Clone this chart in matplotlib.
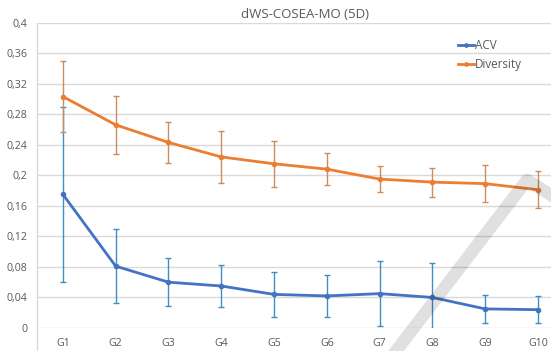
import numpy as np
import matplotlib.pyplot as plt
from matplotlib.lines import Line2D

groups = ['G1', 'G2', 'G3', 'G4', 'G5', 'G6', 'G7', 'G8', 'G9', 'G10']
acv = [0.175, 0.081, 0.060, 0.055, 0.044, 0.042, 0.045, 0.040, 0.025, 0.024]
acv_err = [0.115, 0.048, 0.031, 0.028, 0.029, 0.028, 0.043, 0.045, 0.018, 0.018]
diversity = [0.303, 0.266, 0.243, 0.224, 0.215, 0.208, 0.195, 0.191, 0.189, 0.181]
diversity_err = [0.047, 0.038, 0.027, 0.034, 0.030, 0.021, 0.017, 0.019, 0.024, 0.024]
yticks = [0, 0.04, 0.08, 0.12, 0.16, 0.2, 0.24, 0.28, 0.32, 0.36, 0.4]
ytick_labels = ['0', '0,04', '0,08', '0,12', '0,16', '0,2', '0,24', '0,28', '0,32', '0,36', '0,4']

plt.rcParams['font.family'] = ['Open Sans', 'DejaVu Sans']
text_color = '#595959'
grid_color = '#d9d9d9'

W, H = 551, 351
fig = plt.figure(figsize=(W / 100, H / 100), dpi=100)
ax = fig.add_axes([37 / W, (H - 328) / H, 1 - 37 / W, (328 - 22.5) / H])

x = np.arange(len(groups))
ax.errorbar(x, acv, yerr=acv_err, fmt='none', ecolor='#3f8fc4', elinewidth=1,
            capsize=2, capthick=1, zorder=3)
ax.plot(x, acv, color='#4472c4', lw=2, marker='o', ms=3, label='ACV', zorder=4)
ax.errorbar(x, diversity, yerr=diversity_err, fmt='none', ecolor='#c98d5e', elinewidth=1,
            capsize=2, capthick=1, zorder=5)
ax.plot(x, diversity, color='#ed7d31', lw=2, marker='o', ms=3, label='Diversity', zorder=6)

ax.set_xlim(-0.49, (W - 63) / 52.78)
ax.set_ylim(0, 0.4)
ax.set_yticks(yticks)
ax.set_yticklabels(ytick_labels)
ax.set_xticks(x)
ax.set_xticklabels(groups)
ax.tick_params(axis='both', length=0, labelsize=7.7, colors=text_color)
ax.tick_params(axis='y', pad=7)
ax.tick_params(axis='x', pad=7)
ax.grid(axis='y', color=grid_color, lw=1)
ax.set_axisbelow(True)
for s in ax.spines.values():
    s.set_visible(False)

# left axis line running down past the category labels
fig.add_artist(Line2D([37 / W, 37 / W], [0, (H - 22.5) / H], color=grid_color, lw=1))

fig.text(305 / W, (H - 15) / H, 'dWS-COSEA-MO (5D)', ha='center', va='center',
         fontsize=9.5, color=text_color)

leg = ax.legend(loc='upper left', bbox_to_anchor=(452 / W, (H - 33) / H),
                bbox_transform=fig.transFigure, frameon=False, fontsize=8.4,
                handlelength=1.4, handletextpad=0.1, labelspacing=0.5, borderpad=0,
                markerscale=0.8)
for t in leg.get_texts():
    t.set_color(text_color)

# grey diagonal swoosh on top of the picture
fig.add_artist(Line2D([396 / W, 527 / W, 551 / W],
                      [0, (H - 180) / H, (H - 195) / H],
                      color='black', alpha=0.12, lw=9, solid_joinstyle='round',
                      zorder=10))

fig.savefig('out.png', dpi=100)
